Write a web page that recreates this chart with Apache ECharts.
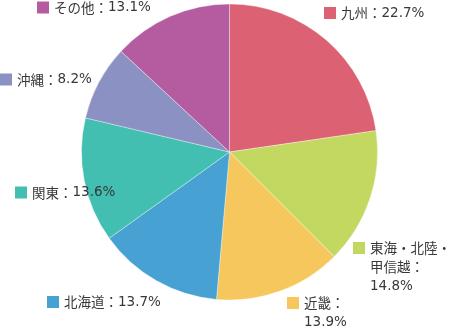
<!DOCTYPE html>
<html><head><meta charset="utf-8">
<script src="https://cdn.jsdelivr.net/npm/echarts@6/dist/echarts.min.js"></script>
<style>html,body{margin:0;padding:0;background:#fff}#c{width:452px;height:328px}</style>
</head><body><div id="c"></div>
<script>
const categories = ['九州', '東海・北陸・甲信越', '近畿', '北海道', '関東', '沖縄', 'その他'];
const values = [22.7, 14.8, 13.9, 13.7, 13.6, 8.2, 13.1];
const colors = ['#dc6173', '#c3d860', '#f5c75c', '#47a1d3', '#42bfb1', '#8b91c2', '#b45c9f'];
// label layout (style only): top-left of each label box, and line break points
const labelPos = [[324, 3.5], [353, 238.5], [287, 293.5], [47, 292.5], [15, 183], [0, 70], [37, -2]];
const lineBreaks = [[], [6, 10], [3], [], [], [], []];

const chart = echarts.init(document.getElementById('c'), null, {renderer: 'canvas'});
chart.setOption({
  animation: false,
  series: [{
    type: 'pie',
    center: [229.5, 152],
    radius: [0, 148],
    startAngle: 90,
    clockwise: true,
    itemStyle: {borderColor: 'rgba(255,255,255,0.6)', borderWidth: 0.6},
    labelLine: {show: false},
    label: {
      position: 'outside',
      overflow: 'none',
      formatter: p => {
        const nameText = p.name + '：';
        const full = nameText + p.value + '%';
        const br = lineBreaks[p.dataIndex].concat([full.length]);
        const lines = [];
        let s = 0;
        br.forEach(b => {
          const a = full.slice(s, Math.min(b, nameText.length > s ? Math.min(b, nameText.length) : s));
          let seg = '';
          const cjkEnd = Math.max(s, Math.min(b, nameText.length));
          if (cjkEnd > s) seg += '{t|' + full.slice(s, cjkEnd) + '}';
          if (b > cjkEnd) seg += '{n|' + full.slice(cjkEnd, b) + '}';
          lines.push(seg);
          s = b;
        });
        return lines.map((seg, i) => (i === 0 ? '{sq' + p.dataIndex + '|}' : '{sp|}') + '{g|}' + seg).join('\n');
      },
      rich: Object.assign({
        t: {fontFamily: '"Noto Sans CJK JP", sans-serif', fontSize: 13.5, color: '#383838', lineHeight: 19},
        n: {fontFamily: '"DejaVu Sans", sans-serif', fontSize: 13.5, color: '#383838', lineHeight: 19},
        g: {width: 5, height: 12, lineHeight: 19},
        sp: {width: 12, height: 12, lineHeight: 19}
      }, Object.fromEntries(colors.map((c, i) => ['sq' + i, {width: 12, height: 12, backgroundColor: c, lineHeight: 19}])))
    },
    labelLayout: p => ({x: labelPos[p.dataIndex][0], y: labelPos[p.dataIndex][1], align: 'left', verticalAlign: 'top', width: 200}),
    data: categories.map((n, i) => ({name: n, value: values[i], itemStyle: {color: colors[i]}}))
  }]
});
</script></body></html>
